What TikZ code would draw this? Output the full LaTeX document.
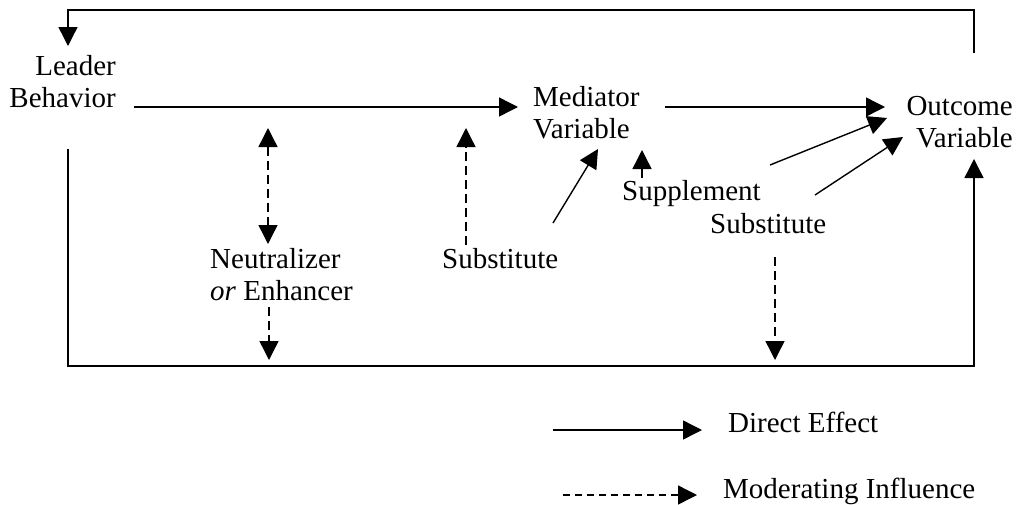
\documentclass[tikz,border=0pt]{standalone}
\usepackage{fontspec}
\setmainfont{Liberation Serif}
\usetikzlibrary{arrows.meta}
\begin{document}
\begin{tikzpicture}[x=1pt,y=-1pt,
  lbl/.style={inner sep=0pt, font=\fontsize{29}{32}\selectfont},
  conn/.style={line width=1.4pt, -{Triangle[length=19pt,width=19pt]}},
  modr/.style={conn, dash pattern=on 9pt off 5pt},
  legmodr/.style={conn, dash pattern=on 7pt off 5pt},
  modrboth/.style={line width=1.4pt, dash pattern=on 9pt off 5pt, {Triangle[length=19pt,width=19pt]}-{Triangle[length=19pt,width=19pt]}}]
\useasboundingbox (0,0) rectangle (1023,504);

% labels (base anchor of a two-line node = baseline of its last line)
\node[lbl, anchor=base east, align=right] (leader) at (116,107) {Leader\\Behavior};
\node[lbl, anchor=base west, align=left] (med) at (533,138) {Mediator\\Variable};
\node[lbl, anchor=base east, align=right] (out) at (1013,147) {Outcome\\Variable};
\node[lbl, anchor=base west] (supp) at (622,200) {Supplement};
\node[lbl, anchor=base west] (subR) at (710,233) {Substitute};
\node[lbl, anchor=base west] (subM) at (442,268) {Substitute};
\node[lbl, anchor=base west, align=left] (neut) at (210,300) {Neutralizer\\\textit{or} Enhancer};
\node[lbl, anchor=base west] (direct) at (728,432) {Direct Effect};
\node[lbl, anchor=base west] (moder) at (723,498) {Moderating Influence};

% connector end points
\coordinate (fbS) at (974,53);
\coordinate (fbTR) at (974,10);
\coordinate (fbTL) at (68,10);
\coordinate (fbE) at (68,46);
\coordinate (lbOut) at (134,107);
\coordinate (medIn) at (518,107);
\coordinate (medOut) at (665,107);
\coordinate (outIn) at (885,107);
\coordinate (lbDown) at (68,149);
\coordinate (bl) at (68,366);
\coordinate (br) at (974,366);
\coordinate (outBot) at (974,159);
\coordinate (nUp) at (268,128);
\coordinate (nDn) at (268,244);
\coordinate (nS) at (269,307);
\coordinate (nE) at (269,360);
\coordinate (smS) at (466,245);
\coordinate (smE) at (466,128);
\coordinate (smaS) at (553,223);
\coordinate (smaE) at (598,149);
\coordinate (spS) at (642,178);
\coordinate (spE) at (642,150);
\coordinate (spoS) at (770,165);
\coordinate (spoE) at (887,118);
\coordinate (sroS) at (815,195);
\coordinate (sroE) at (903,137);
\coordinate (srdS) at (775,257);
\coordinate (srdE) at (775,360);
\coordinate (lg1S) at (553,430);
\coordinate (lg1E) at (702,430);
\coordinate (lg2S) at (563,495);
\coordinate (lg2E) at (697,495);

% direct effects
\draw[conn] (fbS) -- (fbTR) -- (fbTL) -- (fbE);
\draw[conn] (lbOut) -- (medIn);
\draw[conn] (medOut) -- (outIn);
\draw[conn] (lbDown) -- (bl) -- (br) -- (outBot);
\draw[conn] (smaS) -- (smaE);
\draw[conn] (spS) -- (spE);
\draw[conn] (spoS) -- (spoE);
\draw[conn] (sroS) -- (sroE);

% moderating influences
\draw[modrboth] (nUp) -- (nDn);
\draw[modr] (nS) -- (nE);
\draw[modr] (smS) -- (smE);
\draw[modr] (srdS) -- (srdE);

% legend
\draw[conn] (lg1S) -- (lg1E);
\draw[legmodr] (lg2S) -- (lg2E);
\end{tikzpicture}
\end{document}
